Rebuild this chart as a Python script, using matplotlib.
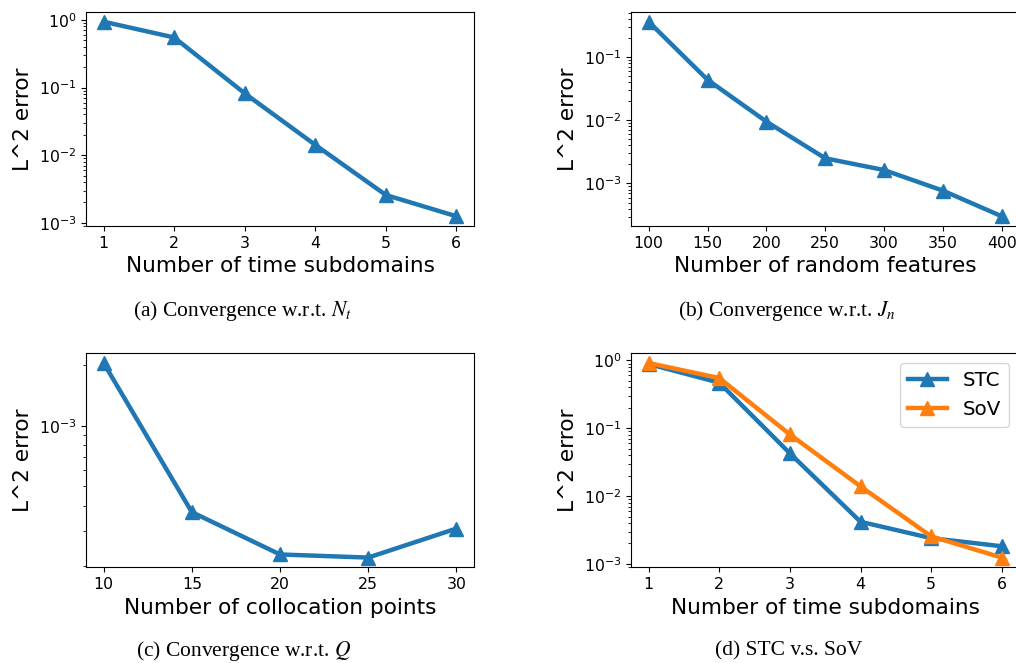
import matplotlib
matplotlib.use('Agg')
import matplotlib.pyplot as plt

# values
subdomains = [1, 2, 3, 4, 5, 6]
err_subdomains = [0.94, 0.55, 0.082, 0.0142, 0.00258, 0.00125]

features = [100, 150, 200, 250, 300, 350, 400]
err_features = [0.36, 0.0436, 0.0095, 0.0025, 0.00163, 0.00077, 0.000303]

colloc = [10, 15, 20, 25, 30]
err_colloc = [2.05e-3, 3.72e-4, 2.29e-4, 2.21e-4, 3.08e-4]

stc_err = [0.885, 0.47, 0.0427, 0.00418, 0.0024, 0.00182]
sov_err = [0.916, 0.55, 0.081, 0.0139, 0.00255, 0.00124]

xlabels = ['Number of time subdomains', 'Number of random features',
           'Number of collocation points', 'Number of time subdomains']
captions = ['(a) Convergence w.r.t. $N_t$', '(b) Convergence w.r.t. $J_n$',
            '(c) Convergence w.r.t. $Q$', '(d) STC v.s. SoV']

W, H = 1016, 663
LW = 3.2
MS = 10.5
LABEL_FS = 15.6
TICK_FS = 11.3

fig = plt.figure(figsize=(W / 100, H / 100), dpi=100)


def add_axes(left, right, top, bottom):
    return fig.add_axes([left / W, 1 - bottom / H, (right - left) / W, (bottom - top) / H])


axes = [
    add_axes(86, 474, 12, 226),
    add_axes(631, 1019.4, 12, 226),
    add_axes(86, 474, 353.3, 567.3),
    add_axes(631, 1019.4, 353.3, 567.3),
]

axes[0].plot(subdomains, err_subdomains, marker='^', lw=LW, ms=MS, color='tab:blue')
axes[1].plot(features, err_features, marker='^', lw=LW, ms=MS, color='tab:blue')
axes[2].plot(colloc, err_colloc, marker='^', lw=LW, ms=MS, color='tab:blue')
axes[3].plot(subdomains, stc_err, marker='^', lw=LW, ms=MS, color='tab:blue', label='STC')
axes[3].plot(subdomains, sov_err, marker='^', lw=LW, ms=MS, color='tab:orange', label='SoV')
axes[3].legend(loc='upper right', fontsize=14.3)

for ax, xl in zip(axes, xlabels):
    ax.set_yscale('log')
    ax.set_xlabel(xl, fontsize=LABEL_FS)
    ax.set_ylabel('L^2 error', fontsize=LABEL_FS)
    ax.tick_params(labelsize=TICK_FS)

# captions sit under each panel, like in the paper
cap_pos = [(242, 311), (787, 311), (244, 651), (789, 651)]
for (cx, cy), cap in zip(cap_pos, captions):
    fig.text(cx / W, 1 - cy / H, cap, ha='center', va='center', fontsize=15.5,
             family='Liberation Serif', math_fontfamily='stix')

fig.savefig('out.png', dpi=100)
